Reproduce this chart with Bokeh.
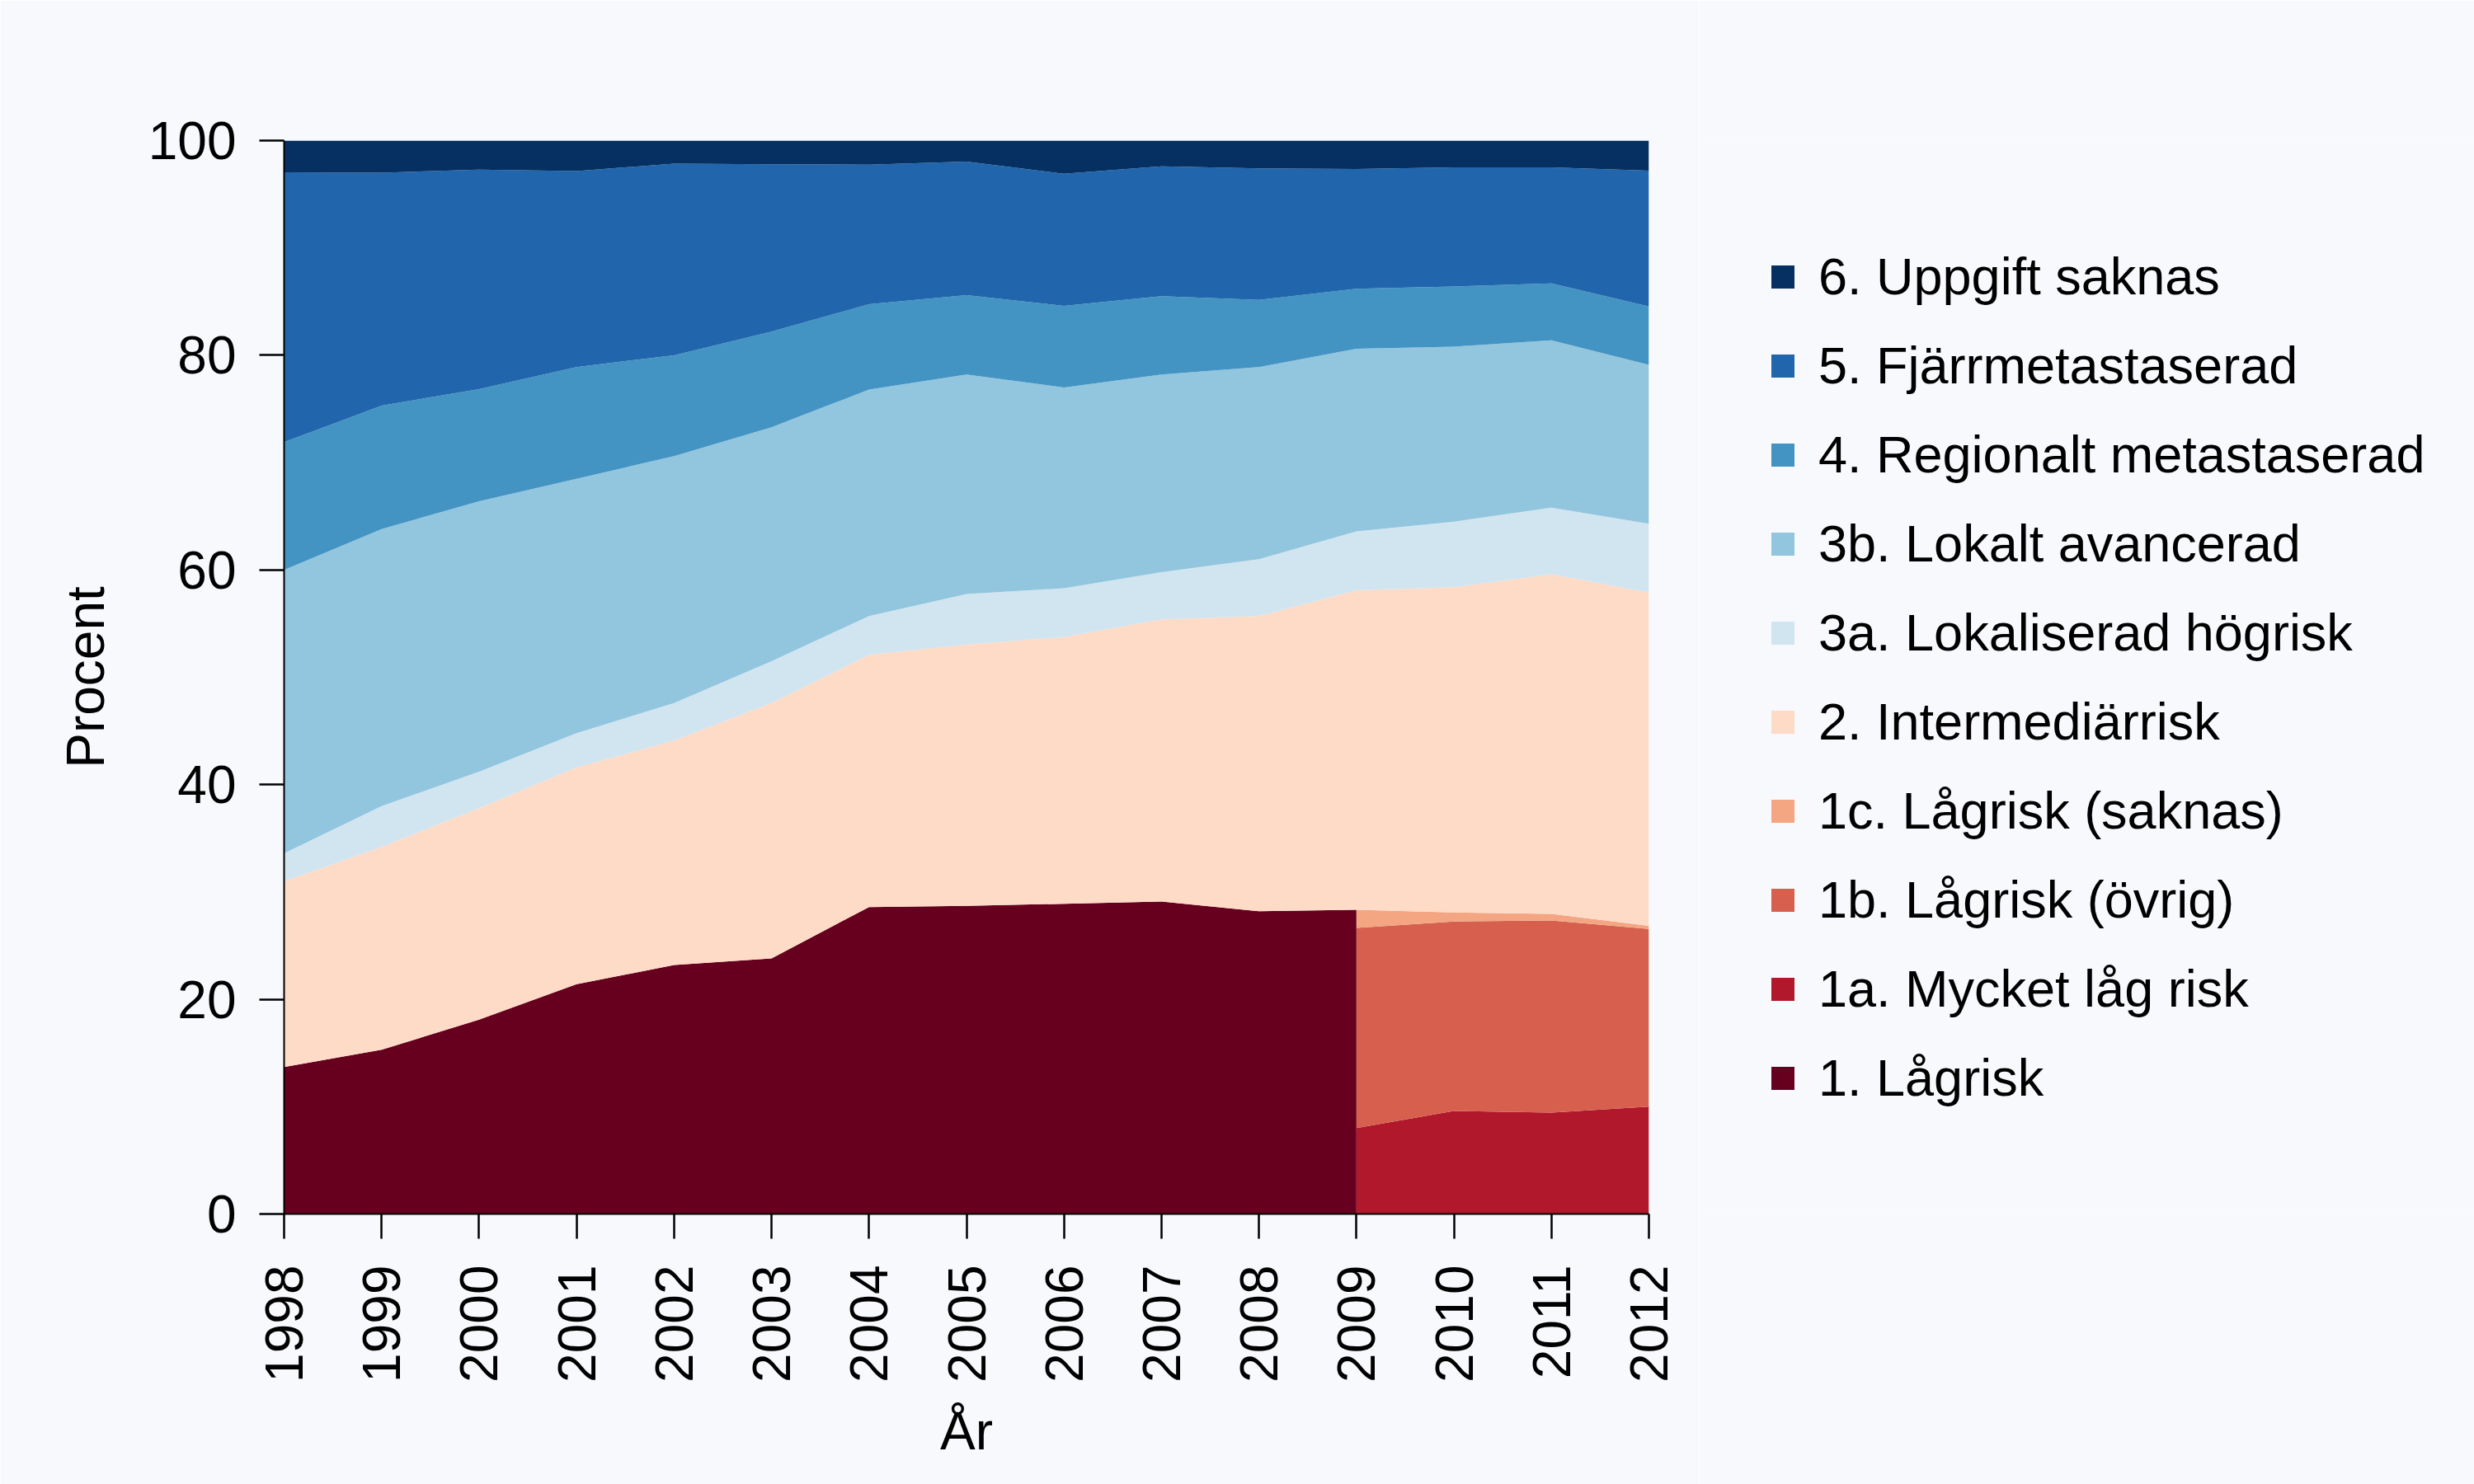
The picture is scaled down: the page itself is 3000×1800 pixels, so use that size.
import numpy as np
from bokeh.plotting import figure
from bokeh.layouts import row
from bokeh.models import Range1d, FixedTicker, Legend, LegendItem
from bokeh.embed import file_html
from bokeh.resources import INLINE

# ---- data (percent of cases per year) ----
years = list(range(1998, 2013))
years_old = years[:12]   # 1998-2009 (single low-risk group)
years_new = years[11:]   # 2009-2012 (low-risk split in 1a/1b/1c)

lagrisk = [13.7, 15.3, 18.1, 21.4, 23.2, 23.8, 28.6, 28.7, 28.9, 29.1, 28.2, 28.35]
mycket_lag_risk = [8.0, 9.6, 9.45, 10.0]
lagrisk_ovrig = [18.65, 17.65, 17.9, 16.55]
lagrisk_saknas = [1.7, 0.85, 0.6, 0.3]

intermediarrisk = [17.3, 18.9, 19.7, 20.2, 20.9, 23.8, 23.5, 24.35, 24.85, 26.3, 27.5, 29.75, 30.3, 31.65, 31.05]
lokaliserad_hogrisk = [2.6, 3.8, 3.4, 3.2, 3.5, 3.9, 3.6, 4.7, 4.55, 4.4, 5.3, 5.5, 6.1, 6.2, 6.4]
lokalt_avancerad = [26.4, 25.8, 25.2, 23.7, 23.0, 21.8, 21.1, 20.45, 18.7, 18.4, 17.9, 17.0, 16.3, 15.6, 14.8]
regionalt_metastaserad = [11.9, 11.5, 10.45, 10.4, 9.4, 8.9, 7.95, 7.4, 7.6, 7.3, 6.25, 5.6, 5.6, 5.3, 5.45]
fjarrmetastaserad = [25.15, 21.7, 20.45, 18.25, 17.85, 15.6, 13.0, 12.45, 12.3, 12.1, 12.25, 11.15, 11.1, 10.8, 12.65]
uppgift_saknas = [2.95, 3.0, 2.7, 2.85, 2.15, 2.2, 2.25, 1.95, 3.1, 2.4, 2.6, 2.65, 2.5, 2.5, 2.8]

labels_low = ["1. Lågrisk", "1a. Mycket låg risk", "1b. Lågrisk (övrig)", "1c. Lågrisk (saknas)"]
labels_up = ["2. Intermediärrisk", "3a. Lokaliserad högrisk", "3b. Lokalt avancerad",
             "4. Regionalt metastaserad", "5. Fjärrmetastaserad", "6. Uppgift saknas"]
colors_low = ["#67001f", "#b2182b", "#d6604d", "#f4a582"]
colors_up = ["#fddbc7", "#d1e5f0", "#92c5de", "#4393c3", "#2166ac", "#053061"]
legend_order = ["6. Uppgift saknas", "5. Fjärrmetastaserad", "4. Regionalt metastaserad",
                "3b. Lokalt avancerad", "3a. Lokaliserad högrisk", "2. Intermediärrisk",
                "1c. Lågrisk (saknas)", "1b. Lågrisk (övrig)", "1a. Mycket låg risk", "1. Lågrisk"]

x_ticks = years
y_ticks = [0, 20, 40, 60, 80, 100]

BG = "#f8f9fd"
FONT = "Liberation Sans"
FS = "64px"

# ---- build stacked layers ----
a = np.array(mycket_lag_risk)
b = np.array(lagrisk_ovrig)
c = np.array(lagrisk_saknas)
layers = [
    (labels_low[0], colors_low[0], years_old, np.zeros(len(years_old)), np.array(lagrisk)),
    (labels_low[1], colors_low[1], years_new, np.zeros(len(years_new)), a),
    (labels_low[2], colors_low[2], years_new, a, a + b),
    (labels_low[3], colors_low[3], years_new, a + b, a + b + c),
]
base = np.array(lagrisk[:11] + list(a + b + c))
for lab, col, vals in zip(labels_up, colors_up,
                          [intermediarrisk, lokaliserad_hogrisk, lokalt_avancerad,
                           regionalt_metastaserad, fjarrmetastaserad, uppgift_saknas]):
    top = base + np.array(vals)
    layers.append((lab, col, years, base, top))
    base = top

# ---- main chart ----
p = figure(width=2060, height=1800,
           x_range=Range1d(1998, 2012), y_range=Range1d(0, 100),
           output_backend="svg", toolbar_location=None,
           min_border_left=344, min_border_right=61,
           min_border_top=170, min_border_bottom=328,
           background_fill_color=BG, border_fill_color=BG,
           outline_line_color=None)
p.grid.visible = False

for lab, col, xs, y1, y2 in layers:
    p.varea(x=xs, y1=y1, y2=y2, fill_color=col)

p.xaxis.ticker = FixedTicker(ticks=x_ticks)
p.yaxis.ticker = FixedTicker(ticks=y_ticks)
p.xaxis.major_label_orientation = np.pi / 2
p.xaxis.axis_label = "År"
p.yaxis.axis_label = "Procent"
for ax in (p.xaxis, p.yaxis):
    ax.axis_line_color = "black"
    ax.axis_line_width = 2
    ax.major_tick_line_color = "black"
    ax.major_tick_line_width = 2.5
    ax.major_tick_out = 30
    ax.major_tick_in = 0
    ax.minor_tick_line_color = None
    ax.major_label_text_font = FONT
    ax.major_label_text_font_size = FS
    ax.major_label_text_color = "black"
    ax.axis_label_text_font = FONT
    ax.axis_label_text_font_size = FS
    ax.axis_label_text_font_style = "normal"
    ax.axis_label_text_color = "black"
p.xaxis.major_label_standoff = 32
p.yaxis.major_label_standoff = 28
p.xaxis.axis_label_standoff = 20
p.yaxis.axis_label_standoff = 37

# ---- legend panel (separate figure to the right; same layers, out of view) ----
lg = figure(width=940, height=1800, x_range=Range1d(0, 1), y_range=Range1d(0, 1),
            output_backend="svg", toolbar_location=None,
            x_axis_type=None, y_axis_type=None,
            min_border_left=0, min_border_right=0, min_border_top=170, min_border_bottom=328,
            background_fill_color=BG, border_fill_color=BG, outline_line_color=None)
lg.grid.visible = False

legend_renderers = {}
for lab, col, xs, y1, y2 in layers:
    legend_renderers[lab] = lg.varea(x=xs, y1=y1, y2=y2, fill_color=col)

items = [LegendItem(label=lab, renderers=[legend_renderers[lab]]) for lab in legend_order]
legend = Legend(items=items, location=(84, 111),
                glyph_width=35, glyph_height=35, label_height=108, spacing=0,
                label_standoff=26, padding=0, margin=0,
                label_text_font=FONT, label_text_font_size="63px", label_text_color="black",
                background_fill_alpha=0, border_line_color=None)
lg.add_layout(legend, "center")

layout = row(p, lg, spacing=0)
open("out.html", "w").write(file_html(layout, INLINE))
